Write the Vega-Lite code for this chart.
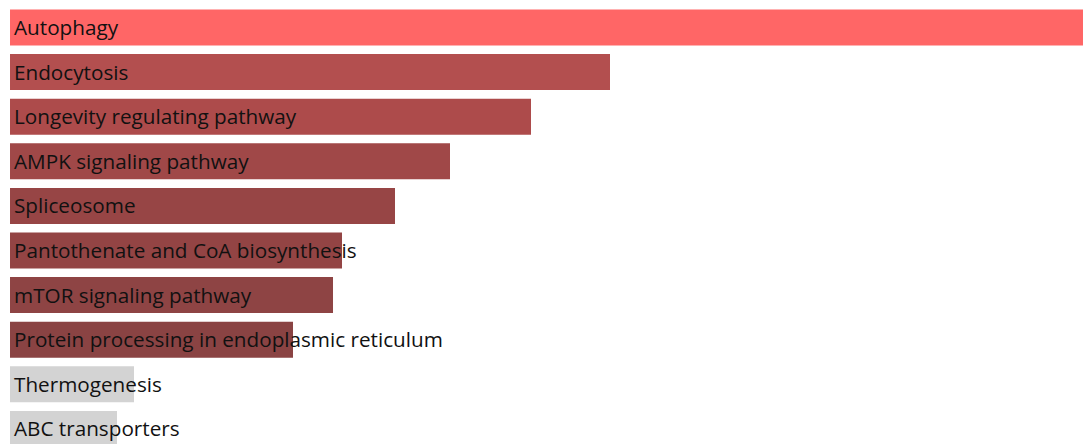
{
  "$schema": "https://vega.github.io/schema/vega-lite/v6.json",
  "width": 1073,
  "height": 437.4,
  "autosize": {"type": "none"},
  "padding": {"left": 10, "top": 9.5, "right": 0, "bottom": 0},
  "background": "white",
  "config": {"view": {"stroke": null}},
  "data": {
    "values": [
      {"term": "Autophagy", "score": 10.73},
      {"term": "Endocytosis", "score": 6.00},
      {"term": "Longevity regulating pathway", "score": 5.21},
      {"term": "AMPK signaling pathway", "score": 4.40},
      {"term": "Spliceosome", "score": 3.85},
      {"term": "Pantothenate and CoA biosynthesis", "score": 3.32},
      {"term": "mTOR signaling pathway", "score": 3.23},
      {"term": "Protein processing in endoplasmic reticulum", "score": 2.83},
      {"term": "Thermogenesis", "score": 1.24},
      {"term": "ABC transporters", "score": 1.07}
    ]
  },
  "encoding": {
    "y": {
      "field": "term",
      "type": "nominal",
      "sort": null,
      "axis": null,
      "scale": {"paddingInner": 0.193, "paddingOuter": 0}
    }
  },
  "layer": [
    {
      "mark": {"type": "bar"},
      "encoding": {
        "x": {
          "field": "score",
          "type": "quantitative",
          "axis": null,
          "scale": {"domain": [0, 10.73], "nice": false, "zero": true}
        },
        "color": {
          "field": "term",
          "type": "nominal",
          "legend": null,
          "scale": {
            "domain": ["Autophagy", "Endocytosis", "Longevity regulating pathway", "AMPK signaling pathway", "Spliceosome", "Pantothenate and CoA biosynthesis", "mTOR signaling pathway", "Protein processing in endoplasmic reticulum", "Thermogenesis", "ABC transporters"],
            "range": ["#FF6666", "#B34F4F", "#AD4B4B", "#A04848", "#974545", "#934444", "#8E4444", "#8A4343", "#D3D3D3", "#D3D3D3"]
          }
        }
      }
    },
    {
      "mark": {
        "type": "text",
        "align": "left",
        "baseline": "middle",
        "dx": 4,
        "dy": 1.5,
        "font": "Open Sans",
        "fontSize": 20.7,
        "color": "#111111"
      },
      "encoding": {
        "x": {"datum": 0, "type": "quantitative"},
        "text": {"field": "term"}
      }
    }
  ]
}
